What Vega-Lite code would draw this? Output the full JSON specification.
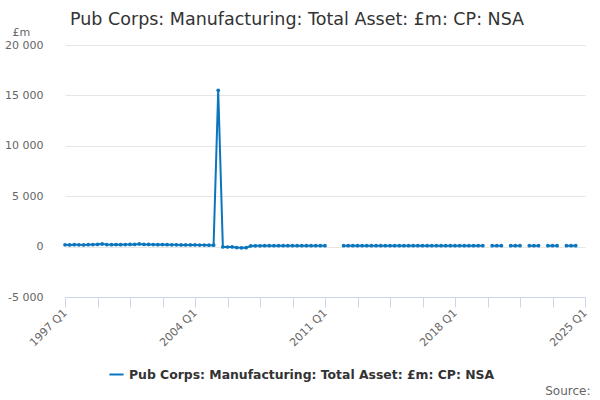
{
  "$schema": "https://vega.github.io/schema/vega-lite/v6.json",
  "autosize": "none",
  "width": 520,
  "height": 252,
  "padding": {"left": 65, "top": 45, "right": 15, "bottom": 103},
  "background": "white",
  "config": {
    "font": "DejaVu Sans",
    "view": {"stroke": null}
  },
  "title": {
    "text": "Pub Corps: Manufacturing: Total Asset: £m: CP: NSA",
    "anchor": "start",
    "frame": "group",
    "fontSize": 17.5,
    "fontWeight": "normal",
    "color": "#333333",
    "dx": 5,
    "offset": -2
  },
  "data": {
    "values": [
      {"quarter": "1997 Q1", "value": 180}, {"quarter": "1997 Q2", "value": 170}, {"quarter": "1997 Q3", "value": 190}, {"quarter": "1997 Q4", "value": 180},
      {"quarter": "1998 Q1", "value": 170}, {"quarter": "1998 Q2", "value": 190}, {"quarter": "1998 Q3", "value": 200}, {"quarter": "1998 Q4", "value": 210},
      {"quarter": "1999 Q1", "value": 260}, {"quarter": "1999 Q2", "value": 200}, {"quarter": "1999 Q3", "value": 190}, {"quarter": "1999 Q4", "value": 200},
      {"quarter": "2000 Q1", "value": 190}, {"quarter": "2000 Q2", "value": 200}, {"quarter": "2000 Q3", "value": 210}, {"quarter": "2000 Q4", "value": 220},
      {"quarter": "2001 Q1", "value": 260}, {"quarter": "2001 Q2", "value": 220}, {"quarter": "2001 Q3", "value": 210}, {"quarter": "2001 Q4", "value": 200},
      {"quarter": "2002 Q1", "value": 190}, {"quarter": "2002 Q2", "value": 200}, {"quarter": "2002 Q3", "value": 190}, {"quarter": "2002 Q4", "value": 180},
      {"quarter": "2003 Q1", "value": 180}, {"quarter": "2003 Q2", "value": 170}, {"quarter": "2003 Q3", "value": 170}, {"quarter": "2003 Q4", "value": 160},
      {"quarter": "2004 Q1", "value": 160}, {"quarter": "2004 Q2", "value": 150}, {"quarter": "2004 Q3", "value": 150}, {"quarter": "2004 Q4", "value": 140},
      {"quarter": "2005 Q1", "value": 140}, {"quarter": "2005 Q2", "value": 15500}, {"quarter": "2005 Q3", "value": -30}, {"quarter": "2005 Q4", "value": -40},
      {"quarter": "2006 Q1", "value": -30}, {"quarter": "2006 Q2", "value": -100}, {"quarter": "2006 Q3", "value": -120}, {"quarter": "2006 Q4", "value": -110},
      {"quarter": "2007 Q1", "value": 60}, {"quarter": "2007 Q2", "value": 80}, {"quarter": "2007 Q3", "value": 80}, {"quarter": "2007 Q4", "value": 90},
      {"quarter": "2008 Q1", "value": 90}, {"quarter": "2008 Q2", "value": 90}, {"quarter": "2008 Q3", "value": 90}, {"quarter": "2008 Q4", "value": 90},
      {"quarter": "2009 Q1", "value": 90}, {"quarter": "2009 Q2", "value": 90}, {"quarter": "2009 Q3", "value": 90}, {"quarter": "2009 Q4", "value": 90},
      {"quarter": "2010 Q1", "value": 90}, {"quarter": "2010 Q2", "value": 90}, {"quarter": "2010 Q3", "value": 90}, {"quarter": "2010 Q4", "value": 90},
      {"quarter": "2011 Q1", "value": 90}, {"quarter": "2011 Q2", "value": null}, {"quarter": "2011 Q3", "value": null}, {"quarter": "2011 Q4", "value": null},
      {"quarter": "2012 Q1", "value": 90}, {"quarter": "2012 Q2", "value": 90}, {"quarter": "2012 Q3", "value": 90}, {"quarter": "2012 Q4", "value": 90},
      {"quarter": "2013 Q1", "value": 90}, {"quarter": "2013 Q2", "value": 90}, {"quarter": "2013 Q3", "value": 90}, {"quarter": "2013 Q4", "value": 90},
      {"quarter": "2014 Q1", "value": 90}, {"quarter": "2014 Q2", "value": 90}, {"quarter": "2014 Q3", "value": 90}, {"quarter": "2014 Q4", "value": 90},
      {"quarter": "2015 Q1", "value": 90}, {"quarter": "2015 Q2", "value": 90}, {"quarter": "2015 Q3", "value": 90}, {"quarter": "2015 Q4", "value": 90},
      {"quarter": "2016 Q1", "value": 90}, {"quarter": "2016 Q2", "value": 90}, {"quarter": "2016 Q3", "value": 90}, {"quarter": "2016 Q4", "value": 90},
      {"quarter": "2017 Q1", "value": 90}, {"quarter": "2017 Q2", "value": 90}, {"quarter": "2017 Q3", "value": 90}, {"quarter": "2017 Q4", "value": 90},
      {"quarter": "2018 Q1", "value": 90}, {"quarter": "2018 Q2", "value": 90}, {"quarter": "2018 Q3", "value": 90}, {"quarter": "2018 Q4", "value": 90},
      {"quarter": "2019 Q1", "value": 90}, {"quarter": "2019 Q2", "value": 90}, {"quarter": "2019 Q3", "value": 90}, {"quarter": "2019 Q4", "value": null},
      {"quarter": "2020 Q1", "value": 90}, {"quarter": "2020 Q2", "value": 90}, {"quarter": "2020 Q3", "value": 90}, {"quarter": "2020 Q4", "value": null},
      {"quarter": "2021 Q1", "value": 90}, {"quarter": "2021 Q2", "value": 90}, {"quarter": "2021 Q3", "value": 90}, {"quarter": "2021 Q4", "value": null},
      {"quarter": "2022 Q1", "value": 90}, {"quarter": "2022 Q2", "value": 90}, {"quarter": "2022 Q3", "value": 90}, {"quarter": "2022 Q4", "value": null},
      {"quarter": "2023 Q1", "value": 90}, {"quarter": "2023 Q2", "value": 90}, {"quarter": "2023 Q3", "value": 90}, {"quarter": "2023 Q4", "value": null},
      {"quarter": "2024 Q1", "value": 90}, {"quarter": "2024 Q2", "value": 90}, {"quarter": "2024 Q3", "value": 90}, {"quarter": "2024 Q4", "value": null},
      {"quarter": "2025 Q1", "value": null}
    ]
  },
  "mark": {"type": "line", "strokeWidth": 2, "point": {"size": 14, "filled": true}},
  "encoding": {
    "x": {
      "field": "quarter",
      "type": "ordinal",
      "sort": null,
      "scale": {"type": "point", "padding": 0},
      "axis": {
        "values": ["1997 Q1", "1998 Q4", "2000 Q3", "2002 Q2", "2004 Q1", "2005 Q4", "2007 Q3", "2009 Q2", "2011 Q1", "2012 Q4", "2014 Q3", "2016 Q2", "2018 Q1", "2019 Q4", "2021 Q3", "2023 Q2", "2025 Q1"],
        "labelExpr": "indexof(['1997 Q1','2004 Q1','2011 Q1','2018 Q1','2025 Q1'], datum.value) >= 0 ? datum.value : ''",
        "labelAngle": -45,
        "labelAlign": "right",
        "labelBaseline": "middle",
        "labelFontSize": 11,
        "labelColor": "#666666",
        "labelPadding": 4,
        "labelOverlap": false,
        "labelBound": false,
        "labelFlush": false,
        "domainColor": "#ccd6eb",
        "tickColor": "#ccd6eb",
        "tickSize": 10,
        "grid": false,
        "title": "Source:",
        "titleFontSize": 12,
        "titleFontWeight": "normal",
        "titleColor": "#666666",
        "titleAnchor": "end",
        "titleAlign": "right",
        "titleBaseline": "alphabetic",
        "titleX": 525,
        "titleY": 97
      }
    },
    "y": {
      "field": "value",
      "type": "quantitative",
      "scale": {"domain": [-5000, 20000], "nice": false},
      "axis": {
        "values": [-5000, 0, 5000, 10000, 15000, 20000],
        "labelExpr": "(datum.value < 0 ? '-' : '') + replace(format(abs(datum.value), ','), ',', ' ')",
        "labelFontSize": 11,
        "labelColor": "#666666",
        "labelPadding": 22,
        "domain": false,
        "ticks": false,
        "gridColor": "#e6e6e6",
        "title": "£m",
        "titleAngle": 0,
        "titleFontSize": 11,
        "titleFontWeight": "normal",
        "titleColor": "#666666",
        "titleAlign": "left",
        "titleBaseline": "alphabetic",
        "titleX": -53,
        "titleY": -10
      }
    },
    "color": {
      "datum": "Pub Corps: Manufacturing: Total Asset: £m: CP: NSA",
      "type": "nominal",
      "scale": {"range": ["#0b76be"]},
      "legend": {
        "title": null,
        "orient": "none",
        "legendX": 43,
        "legendY": 321,
        "labelFontSize": 12.4,
        "labelFontWeight": "bold",
        "labelColor": "#333333",
        "labelLimit": 500,
        "symbolType": "stroke",
        "symbolStrokeWidth": 2,
        "symbolSize": 200
      }
    }
  }
}
